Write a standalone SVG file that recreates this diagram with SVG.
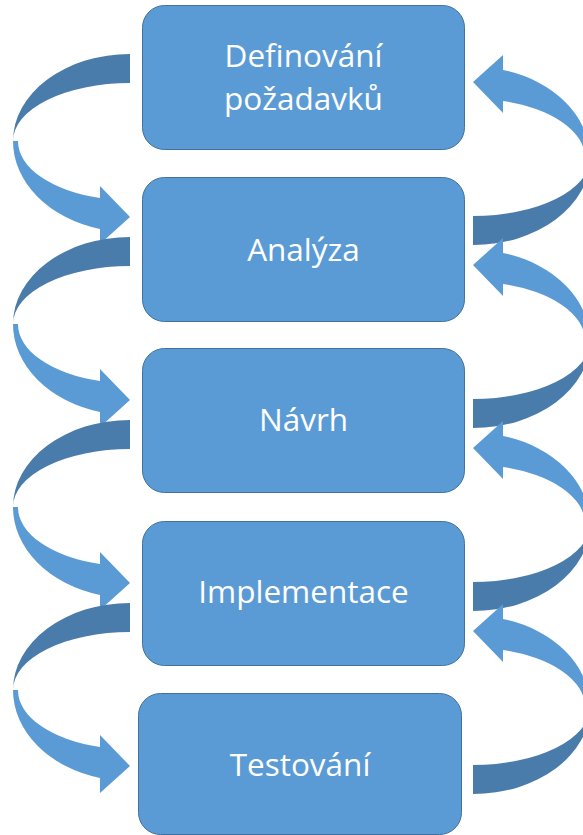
<svg xmlns="http://www.w3.org/2000/svg" width="583" height="835" viewBox="0 0 583 835">
  <style>
    .box { fill: #5B9BD5; stroke: #41719C; stroke-width: 1; }
    .lbl { fill: #FFFFFF; font-family: "Open Sans", "Noto Sans", "Liberation Sans", sans-serif; font-size: 31.5px; text-anchor: middle; }
    .back { fill: #497CAA; }
    .front { fill: #5B9BD5; }
  </style>
  <defs>
    <g id="curvedArrow">
      <path class="back" d="M130,54 A117,87 0 0 0 13,141 A117,58 0 0 1 130,83 Z"/>
      <path class="front" d="M13,141 A117,91 0 0 0 100,229 L100,244 L130,217 L100,186 L100,198 A112,59 0 0 1 18,141 Z"/>
    </g>
  </defs>
  <g id="connectors">
    <use href="#curvedArrow"/>
    <use href="#curvedArrow" transform="translate(0,183)"/>
    <use href="#curvedArrow" transform="translate(0,366)"/>
    <use href="#curvedArrow" transform="translate(0,549)"/>
    <use href="#curvedArrow" transform="rotate(180,301.5,149.5)"/>
    <use href="#curvedArrow" transform="translate(0,183) rotate(180,301.5,149.5)"/>
    <use href="#curvedArrow" transform="translate(0,366) rotate(180,301.5,149.5)"/>
    <use href="#curvedArrow" transform="translate(0,549) rotate(180,301.5,149.5)"/>
  </g>
  <g id="definovani">
    <rect class="box" x="142.5" y="5.5" width="322" height="144" rx="22"/>
    <text class="lbl" x="303.5" y="67">Definování</text>
    <text class="lbl" x="303.5" y="110">požadavků</text>
  </g>
  <g id="analyza">
    <rect class="box" x="142.5" y="177.5" width="322" height="144" rx="22"/>
    <text class="lbl" x="303.5" y="260.5">Analýza</text>
  </g>
  <g id="navrh">
    <rect class="box" x="142.5" y="348.5" width="322" height="144" rx="22"/>
    <text class="lbl" x="303.5" y="431">Návrh</text>
  </g>
  <g id="implementace">
    <rect class="box" x="142.5" y="521.5" width="322" height="144" rx="22"/>
    <text class="lbl" x="303.5" y="603">Implementace</text>
  </g>
  <g id="testovani">
    <rect class="box" x="138.5" y="693.5" width="323" height="141" rx="22"/>
    <text class="lbl" x="300" y="776">Testování</text>
  </g>
</svg>
